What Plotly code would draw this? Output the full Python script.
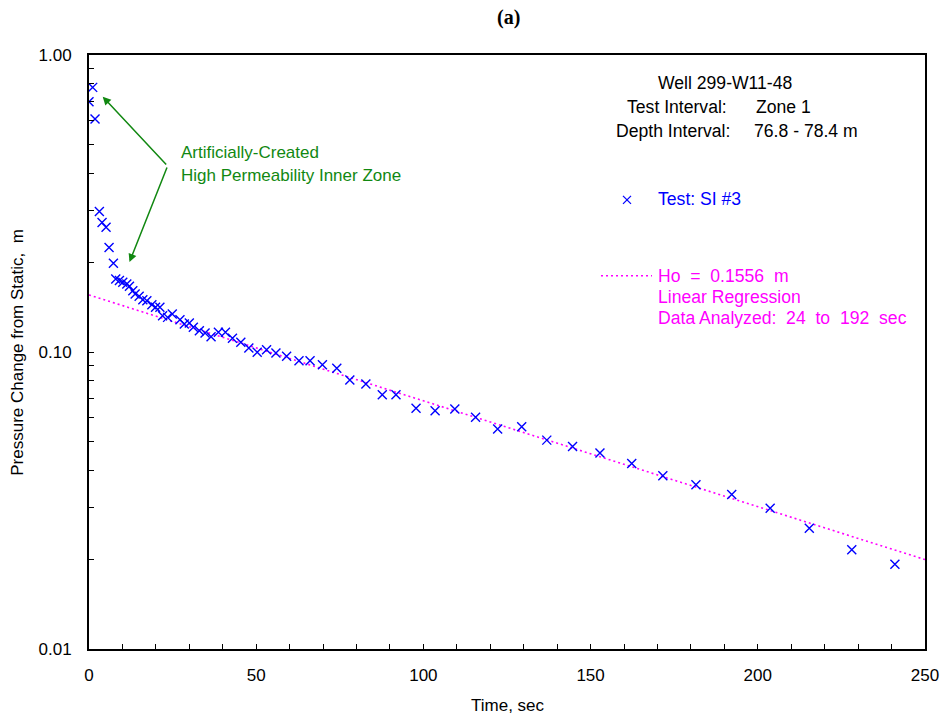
import math
import plotly.graph_objects as go

# ---- data ----
time_sec = [0, 1.1, 1.8, 3.1, 3.9, 5.1, 6.0, 7.3, 8.0, 9.1, 10.1, 11.3, 12.1, 13.1, 13.8,
            15.0, 16.1, 17.3, 18.8, 19.9, 21.2, 22.0, 23.5, 24.9, 27.2, 28.5, 30.0, 31.2,
            33.0, 34.7, 36.5, 38.7, 40.8, 42.9, 45.4, 47.8, 50.3, 53.1, 55.9, 59.1, 62.8,
            66.1, 69.8, 74.1, 78.0, 82.8, 87.7, 91.8, 97.8, 103.5, 109.4, 115.6, 122.2,
            129.4, 136.9, 144.6, 152.8, 162.3, 171.6, 181.5, 192.2, 203.7, 215.4, 228.1, 241.0]
pressure_m = [0.696, 0.778, 0.609, 0.297, 0.273, 0.263, 0.225, 0.199, 0.176, 0.174, 0.1717,
              0.1694, 0.1664, 0.1608, 0.1568, 0.154, 0.150, 0.1488, 0.1443, 0.1415, 0.1415,
              0.1325, 0.1308, 0.1342, 0.1284, 0.1243, 0.1252, 0.1211, 0.118, 0.1159, 0.1126,
              0.1165, 0.1165, 0.1112, 0.1078, 0.1031, 0.0998, 0.1018, 0.0992, 0.0967, 0.0935,
              0.0935, 0.0906, 0.0881, 0.0805, 0.0780, 0.0718, 0.0718, 0.0646, 0.0634, 0.0643,
              0.0603, 0.0550, 0.0560, 0.0505, 0.0481, 0.0457, 0.0421, 0.0383, 0.0357, 0.0331,
              0.0298, 0.0255, 0.0216, 0.0193]

fit_t = [0, 250]
fit_v = [0.1556, 0.0200]

x_tickvals = list(range(0, 251, 10))
x_ticktext = [str(v) if v % 50 == 0 else "" for v in x_tickvals]
y_tickvals = [0.01, 0.02, 0.03, 0.04, 0.05, 0.06, 0.07, 0.08, 0.09,
              0.1, 0.2, 0.3, 0.4, 0.5, 0.6, 0.7, 0.8, 0.9, 1.0]
y_ticktext = ["0.01", "", "", "", "", "", "", "", "",
              "0.10", "", "", "", "", "", "", "", "", "1.00"]

BLUE = "#0000FF"
MAG = "#FF00FF"
GREEN = "#118811"
FONT = "Liberation Sans, Arial, sans-serif"
FS = 17
AFS = 17.6

fig = go.Figure()
fig.add_trace(go.Scatter(x=fit_t, y=fit_v, mode="lines",
                         line=dict(color=MAG, width=1.6, dash="2px,3px"),
                         showlegend=False, hoverinfo="skip"))
fig.add_trace(go.Scatter(x=time_sec, y=pressure_m, mode="markers",
                         marker=dict(symbol="x-thin", size=9, color=BLUE,
                                     line=dict(color=BLUE, width=1.4)),
                         showlegend=False))

def px2paper_x(px):
    return (px - 89) / 836.0

def px2paper_y(py):
    return (649.5 - py) / 594.5

ann = []
def txt(text, xp, yp, color="black", xanchor="left", size=AFS, family=FONT, **kw):
    ann.append(dict(text=text, xref="paper", yref="paper", x=px2paper_x(xp), y=px2paper_y(yp),
                    xanchor=xanchor, yanchor="middle", showarrow=False,
                    font=dict(color=color, size=size, family=family), **kw))

txt("<b>(a)</b>", 508, 17, xanchor="center", size=20, family="Liberation Serif, Times New Roman, serif")
txt("Time, sec", 508, 706, xanchor="center", size=FS)
txt("Pressure Change from Static,\u00a0 m", 18, 353, xanchor="center", textangle=-90, size=FS)

txt("Well 299-W11-48", 656, 83)
txt("Test Interval:", 625, 107)
txt("Zone 1", 754, 107)
txt("Depth Interval:", 614, 131)
txt("76.8 - 78.4 m", 752, 131)

txt("Test: SI #3", 656, 199.5, color=BLUE)
txt("Ho\u00a0 =\u00a0 0.1556\u00a0 m", 656, 276, color=MAG)
txt("Linear Regression", 656, 297, color=MAG)
txt("Data Analyzed:\u00a0 24\u00a0 to\u00a0 192\u00a0 sec", 656, 318, color=MAG)

txt("Artificially-Created", 179, 153, color=GREEN, size=FS)
txt("High Permeability Inner Zone", 179, 176, color=GREEN, size=FS)

# arrows (log axis annotations use log10 values)
vertex_t, vertex_v = 23.5, 0.423
for tip_t, tip_v in [(4.1, 0.724), (12.1, 0.2008)]:
    ann.append(dict(x=tip_t, y=math.log10(tip_v), xref="x", yref="y",
                    ax=vertex_t, ay=math.log10(vertex_v), axref="x", ayref="y",
                    text="", showarrow=True, arrowhead=2, arrowsize=1.1, arrowwidth=1.5,
                    arrowcolor=GREEN, standoff=0, startstandoff=0))

shapes = [
    dict(type="line", xref="paper", yref="paper",
         x0=px2paper_x(601), x1=px2paper_x(652), y0=px2paper_y(276), y1=px2paper_y(276),
         line=dict(color=MAG, width=1.6, dash="2px,3px")),
    dict(type="line", xref="paper", yref="paper",
         x0=px2paper_x(623), x1=px2paper_x(631), y0=px2paper_y(196), y1=px2paper_y(204),
         line=dict(color=BLUE, width=1.3)),
    dict(type="line", xref="paper", yref="paper",
         x0=px2paper_x(623), x1=px2paper_x(631), y0=px2paper_y(204), y1=px2paper_y(196),
         line=dict(color=BLUE, width=1.3)),
]

fig.update_layout(
    width=942, height=721, autosize=False,
    margin=dict(l=89, r=17, t=55, b=71.5, autoexpand=False),
    paper_bgcolor="white", plot_bgcolor="white",
    font=dict(family=FONT, size=FS, color="black"),
    annotations=ann, shapes=shapes, showlegend=False,
    xaxis=dict(range=[0, 250], tickmode="array", tickvals=x_tickvals, ticktext=x_ticktext,
               ticks="inside", ticklen=5, tickwidth=1, tickcolor="black",
               showline=True, linecolor="black", linewidth=2, mirror=True,
               showgrid=False, zeroline=False, ticklabelstandoff=10, automargin=False,
               tickfont=dict(size=FS, family=FONT)),
    yaxis=dict(type="log", range=[-2, 0], tickmode="array", tickvals=y_tickvals, ticktext=y_ticktext,
               ticks="inside", ticklen=5, tickwidth=1, tickcolor="black",
               showline=True, linecolor="black", linewidth=2, mirror=True,
               showgrid=False, zeroline=False, ticklabelstandoff=12, automargin=False,
               tickfont=dict(size=FS, family=FONT)),
)

fig.write_html("out.html",
               config={"displayModeBar": False, "responsive": False},
               post_script="document.body.style.margin='0';document.body.style.padding='0';"
                           "document.body.style.overflow='hidden';")
